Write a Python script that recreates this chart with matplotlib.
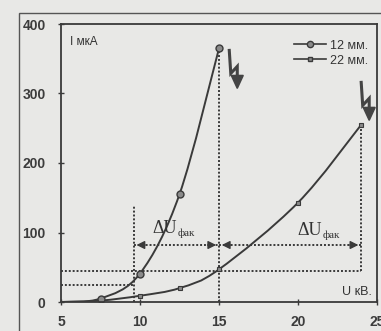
import numpy as np
import matplotlib
matplotlib.use('Agg')
import matplotlib.pyplot as plt
from matplotlib.path import Path
from matplotlib.patches import PathPatch, Rectangle
from matplotlib.lines import Line2D
from matplotlib.transforms import ScaledTranslation

# data
u_12 = [5, 7.5, 10, 12.5, 15]
i_12 = [0, 5, 41, 155, 365]
u_22 = [5, 7.5, 10, 12.5, 15, 20, 24]
i_22 = [0, 2, 9, 20, 47, 143, 255]

x_ticks = [5, 10, 15, 20, 25]
y_ticks = [0, 100, 200, 300, 400]

# guide lines (dotted)
h_guides = [(45, 5, 24), (24, 5, 9.6)]          # (I, U from, U to)
v_guides = [(9.6, 0, 140), (15, 0, 365), (24, 45, 255)]  # (U, I from, I to)
arrow_i = 82
du_spans = [(9.6, 15), (15, 24)]
zz_anchor = [(15.65, 362), (24.0, 316)]   # tops of the zigzag arrows

bg = '#e8e8e6'
ink = '#3a3a3a'


def smooth(ax, xs, ys, **kw):
	# Catmull-Rom through the points, drawn as cubic bezier path
	xs = np.asarray(xs, float); ys = np.asarray(ys, float)
	n = len(xs)
	verts = [(xs[0], ys[0])]
	codes = [Path.MOVETO]
	for k in range(n - 1):
		p0 = (xs[max(k-1, 0)], ys[max(k-1, 0)])
		p1 = (xs[k], ys[k])
		p2 = (xs[k+1], ys[k+1])
		p3 = (xs[min(k+2, n-1)], ys[min(k+2, n-1)])
		c1 = (p1[0] + (p2[0]-p0[0])/6, p1[1] + (p2[1]-p0[1])/6)
		c2 = (p2[0] - (p3[0]-p1[0])/6, p2[1] - (p3[1]-p1[1])/6)
		verts += [c1, c2, p2]
		codes += [Path.CURVE4]*3
	ax.add_patch(PathPatch(Path(verts, codes), fill=False, **kw))


def zigzag(ax, x, y):
	# little hand drawn "lightning" arrow, shape in 1/100 inch around anchor
	tr = fig.dpi_scale_trans + ScaledTranslation(x, y, ax.transData)
	sx = np.array([0, 1.5, 8, 8]) / 100
	sy = np.array([0, -23, -16, -26]) / 100
	ax.plot(sx, sy, color='#444444', lw=2.2, transform=tr, solid_joinstyle='miter')
	ax.fill(np.array([2, 14, 8]) / 100, np.array([-25, -25, -38]) / 100,
		color='#444444', transform=tr)


fig = plt.figure(figsize=(3.81, 3.31), dpi=100, facecolor=bg)
ax = fig.add_axes([61/381, 29/331, 316/381, 278/331], facecolor=bg)
ax.set_xlim(5, 25)
ax.set_ylim(0, 400)

# outer frame of the scanned figure
fig.patches.append(Rectangle((19/381, -0.05), 1.2, 1 - 13/331 + 0.05, transform=fig.transFigure,
	fill=False, ec='#555555', lw=1.0))

for s in ax.spines.values():
	s.set_color(ink); s.set_linewidth(1.3)

ax.set_xticks(x_ticks)
ax.set_yticks(y_ticks)
ax.tick_params(colors=ink, labelcolor='#3c3c3c', length=4, width=1.0, direction='inout',
	labelsize=10)
ax.tick_params(axis='y', pad=9)
ax.tick_params(axis='x', pad=7)
for t in ax.get_xticklabels() + ax.get_yticklabels():
	t.set_fontfamily('Liberation Sans')
	t.set_fontweight('bold')

dot = dict(color=ink, ls=(0, (1, 1)), lw=1.4)
for yy, x0, x1 in h_guides:
	ax.plot([x0, x1], [yy, yy], **dot)
for xx, y0, y1 in v_guides:
	ax.plot([xx, xx], [y0, y1], **dot)

for a, b in du_spans:
	ax.plot([a, b], [arrow_i, arrow_i], **dot)
	ax.annotate('', xy=(a, arrow_i), xytext=(a + 0.9, arrow_i),
		arrowprops=dict(arrowstyle='-|>', color=ink, lw=1, mutation_scale=12))
	ax.annotate('', xy=(b, arrow_i), xytext=(b - 0.9, arrow_i),
		arrowprops=dict(arrowstyle='-|>', color=ink, lw=1, mutation_scale=12))

smooth(ax, u_12, i_12, ec=ink, lw=1.4)
smooth(ax, u_22, i_22, ec=ink, lw=1.4)
ax.plot(u_12[1:], i_12[1:], 'o', ms=5, mfc='#8a8a8a', mec=ink, mew=1.0)
ax.plot(u_22[2:], i_22[2:], 's', ms=3.2, mfc='#8a8a8a', mec=ink, mew=0.8)

# labels
ax.text(0.03, 0.935, 'I мкА', transform=ax.transAxes, fontsize=8.5, color='#333333',
	family='Liberation Sans', va='center')
ax.text(0.985, 0.035, 'U кВ.', transform=ax.transAxes, fontsize=9, color='#333333',
	family='Liberation Sans', ha='right', va='center')

serif = dict(family='Liberation Serif', color='#333333')
ax.text(10.8, 99, 'ΔU', fontsize=13, **serif)
ax.text(12.4, 95, 'фак', fontsize=8, **serif)
ax.text(19.95, 96, 'ΔU', fontsize=13, **serif)
ax.text(21.55, 92, 'фак', fontsize=8, **serif)

for zx, zy in zz_anchor:
	zigzag(ax, zx, zy)

h1 = Line2D([], [], color=ink, lw=1.2, marker='o', ms=4.5, mfc='#8a8a8a', mec=ink)
h2 = Line2D([], [], color=ink, lw=1.2, marker='s', ms=2.8, mfc='#8a8a8a', mec=ink)
leg = ax.legend([h1, h2], ['12 мм.', '22 мм.'], loc='upper right', frameon=False,
	bbox_to_anchor=(1.0, 0.975),
	handlelength=2.6, handletextpad=0.3, labelspacing=0.25, borderaxespad=0.3,
	prop=dict(family='Liberation Sans', size=9))
for t in leg.get_texts():
	t.set_color('#333333')

fig.savefig('out.png', dpi=100, facecolor=bg)
